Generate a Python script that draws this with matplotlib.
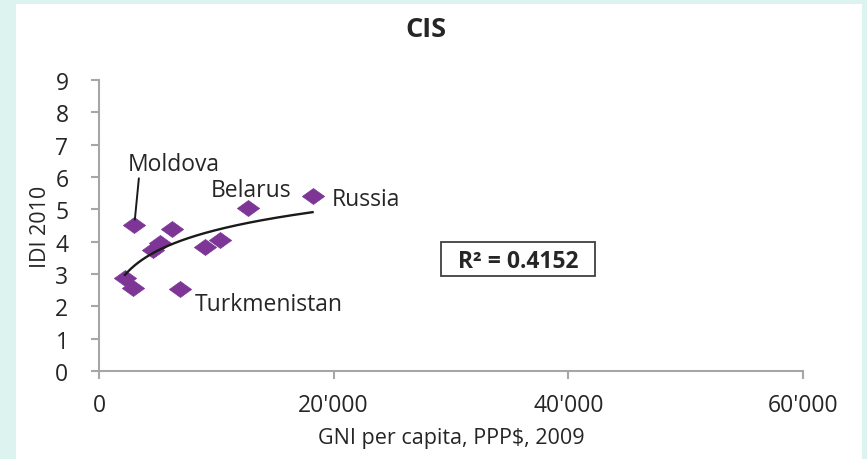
import numpy as np
import matplotlib
matplotlib.use("Agg")
import matplotlib.pyplot as plt
from matplotlib.patches import Rectangle
from matplotlib.path import Path

plt.rcParams['font.family'] = ['Open Sans', 'DejaVu Sans']

# Data (GNI per capita PPP$ 2009, IDI 2010)
gni = [3010, 6200, 12730, 18200, 5200, 4630, 9040, 10310, 2220, 2870, 6900]
idi = [4.51, 4.39, 5.05, 5.42, 3.95, 3.74, 3.84, 4.05, 2.89, 2.58, 2.53]
labels = ["Moldova", "", "Belarus", "Russia", "", "", "", "", "", "", "Turkmenistan"]
x_ticks = [0, 20000, 40000, 60000]
x_tick_labels = ["0", "20'000", "40'000", "60'000"]
y_ticks = list(range(0, 10))
r2_text = "R² = 0.4152"

bg = "#dcf3f0"
purple = "#7d3596"
axis_grey = "#a6a6a6"
text_col = "#262626"

fig = plt.figure(figsize=(8.67, 4.6), dpi=100, facecolor=bg)
fig.patches.append(Rectangle((16/867, 0), (862-16)/867, 1 - 5/460,
                             transform=fig.transFigure, facecolor="white",
                             edgecolor="none", zorder=-10))

ax = fig.add_axes([99/867, 1 - 372/460, 704/867, 291/460])
ax.set_facecolor("none")
ax.set_xlim(0, 60000)
ax.set_ylim(0, 9)

# log trendline
xa = np.array(gni, dtype=float)
ya = np.array(idi, dtype=float)
a, b = np.polyfit(np.log(xa), ya, 1)
xs = np.linspace(xa.min(), xa.max(), 200)
ax.plot(xs, a * np.log(xs) + b, color="#1a1a1a", lw=1.7, zorder=3)

# wide diamond marker
diamond = Path([(-1, 0), (0, 0.72), (1, 0), (0, -0.72), (-1, 0)],
               [Path.MOVETO, Path.LINETO, Path.LINETO, Path.LINETO, Path.CLOSEPOLY])
ax.plot(gni, idi, linestyle="none", marker=diamond, ms=16, color=purple,
        markeredgecolor=purple, markeredgewidth=0.5, zorder=2, clip_on=False)

for s in ["top", "right"]:
    ax.spines[s].set_visible(False)
for s in ["left", "bottom"]:
    ax.spines[s].set_color(axis_grey)
    ax.spines[s].set_linewidth(1.5)

ax.set_xticks(x_ticks)
ax.set_xticklabels(x_tick_labels)
ax.set_yticks(y_ticks)
ax.tick_params(axis="both", direction="out", length=6, width=1.5, color=axis_grey,
               labelsize=16.5, labelcolor=text_col)
ax.tick_params(axis="x", pad=10)
ax.tick_params(axis="y", pad=16)

ax.set_xlabel("GNI per capita, PPP$, 2009", fontsize=15.5, color=text_col, labelpad=7)
ax.set_ylabel("IDI 2010", fontsize=15.5, color=text_col, labelpad=3)

fig.text(426/867, 1 - 30/460, "CIS", ha="center", va="center", fontsize=19.5,
         fontweight="bold", color=text_col)

# annotations
lab_style = dict(fontsize=16.5, color=text_col, va="baseline")
ax.annotate(labels[0], xy=(gni[0], idi[0]), xytext=(6400, 6.23),
            ha="center", **lab_style,
            arrowprops=dict(arrowstyle="-", color="#1a1a1a", lw=1.4,
                            relpos=(0.12, 0.0), shrinkA=0, shrinkB=4))
ax.annotate(labels[2], xy=(gni[2], idi[2]), xytext=(12950, 5.41),
            ha="center", **lab_style)
ax.annotate(labels[3], xy=(gni[3], idi[3]), xytext=(19830, 5.12),
            ha="left", **lab_style)
ax.annotate(labels[10], xy=(gni[10], idi[10]), xytext=(8180, 1.88),
            ha="left", **lab_style)

# R² box
ax.add_patch(Rectangle((0.4858, 0.3265), 0.7045 - 0.4858, 0.4433 - 0.3265,
                       transform=ax.transAxes, facecolor="white",
                       edgecolor="#404040", lw=1.3, zorder=4))
ax.text(0.5955, 0.357, r2_text, transform=ax.transAxes, ha="center", va="baseline",
        fontsize=16.5, fontweight="bold", color=text_col, zorder=5)

fig.savefig("out.png", dpi=100, facecolor=bg)
